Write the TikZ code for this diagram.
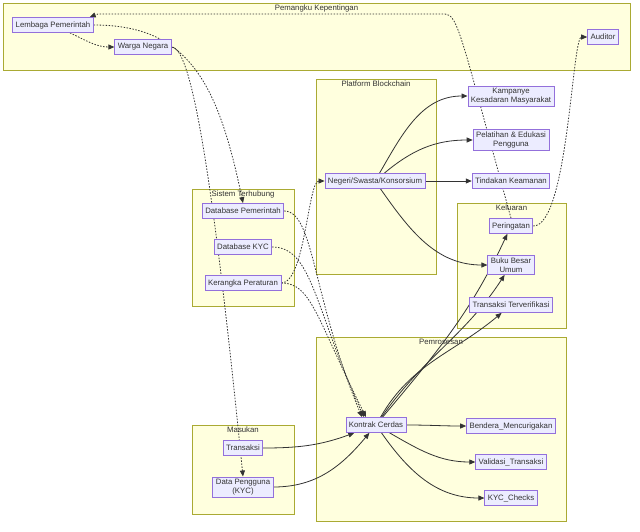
\documentclass[tikz,border=0pt]{standalone}
\usepackage{fontspec}
\setmainfont{Liberation Sans}
\usetikzlibrary{arrows.meta,positioning,calc}
\definecolor{boxfill}{HTML}{ECECFF}
\definecolor{boxline}{HTML}{9370DB}
\definecolor{groupfill}{HTML}{FFFFDE}
\definecolor{groupline}{HTML}{AAAA33}
\definecolor{inkgray}{HTML}{333333}
\pgfdeclarelayer{background}
\pgfdeclarelayer{edges}
\pgfsetlayers{background,edges,main}
\tikzset{
  nodebox/.style={draw=boxline, fill=boxfill, line width=0.8pt, text=inkgray,
    font=\fontsize{7.8}{9.2}\selectfont, align=center,
    inner xsep=3pt, inner ysep=2pt, minimum height=15pt},
  groupbox/.style={draw=groupline, fill=groupfill, line width=0.8pt},
  grouptitle/.style={text=inkgray, font=\fontsize{7.8}{9.2}\selectfont,
    anchor=base, inner sep=0pt},
  flow/.style={-{Triangle[length=6pt,width=5pt]}, line width=0.8pt, draw=inkgray},
  dotflow/.style={flow, dash pattern=on 1.5pt off 1.5pt}
}

\begin{document}
\begin{tikzpicture}[x=1pt, y=1pt]
\useasboundingbox (0,0) rectangle (640,-531);

% groups
\begin{pgfonlayer}{background}
\draw[groupbox] (3,-3) rectangle (630,-70);
\draw[groupbox] (316,-79) rectangle (436,-274);
\draw[groupbox] (192,-189) rectangle (294,-306);
\draw[groupbox] (457,-203) rectangle (566,-328);
\draw[groupbox] (316,-337) rectangle (566,-521);
\draw[groupbox] (192,-425) rectangle (294,-514);
\end{pgfonlayer}
\node[grouptitle] (tPemangku) at (316.5,-10) {Pemangku Kepentingan};
\node[grouptitle] (tPlatform) at (376,-86) {Platform Blockchain};
\node[grouptitle] (tSistem) at (243,-196) {Sistem Terhubung};
\node[grouptitle] (tKeluaran) at (511.5,-210) {Keluaran};
\node[grouptitle] (tPemrosesan) at (441,-344) {Pemrosesan};
\node[grouptitle] (tMasukan) at (243,-432) {Masukan};

% nodes
\node[nodebox] (lembaga) at (53,-25) {Lembaga Pemerintah};
\node[nodebox] (warga) at (143,-47) {Warga Negara};
\node[nodebox] (auditor) at (603,-37) {Auditor};
\node[nodebox] (dbPem) at (243,-211) {Database Pemerintah};
\node[nodebox] (dbKyc) at (243,-247) {Database KYC};
\node[nodebox] (kerangka) at (243,-283) {Kerangka Peraturan};
\node[nodebox] (negeri) at (375,-181) {Negeri/Swasta/Konsorsium};
\node[nodebox] (kampanye) at (511,-96) {Kampanye\\Kesadaran Masyarakat};
\node[nodebox] (pelatihan) at (511,-140) {Pelatihan \& Edukasi\\Pengguna};
\node[nodebox] (tindakan) at (511,-181) {Tindakan Keamanan};
\node[nodebox] (peringatan) at (511,-226) {Peringatan};
\node[nodebox] (buku) at (511,-265) {Buku Besar\\Umum};
\node[nodebox] (terverif) at (511,-305) {Transaksi Terverifikasi};
\node[nodebox] (kontrak) at (376,-425) {Kontrak Cerdas};
\node[nodebox] (bendera) at (511,-426) {Bendera\_Mencurigakan};
\node[nodebox] (validasi) at (511,-462) {Validasi\_Transaksi};
\node[nodebox] (kycChecks) at (511,-498) {KYC\_Checks};
\node[nodebox] (transaksi) at (243,-448) {Transaksi};
\node[nodebox] (dataPeng) at (243,-487) {Data Pengguna\\(KYC)};

\begin{pgfonlayer}{edges}
% solid flows
\draw[flow] (negeri) to[out=60,in=180] (kampanye);
\draw[flow] (negeri) to[out=40,in=180] (pelatihan);
\draw[flow] (negeri) -- (tindakan);
\draw[flow] (negeri) to[out=-55,in=180] (buku);
\draw[flow] (kontrak) to[out=50,in=-115] (peringatan);
\draw[flow] (kontrak) to[out=55,in=-123] (buku);
\draw[flow] (kontrak) to[out=60,in=-140] (terverif);
\draw[flow] (kontrak) to[out=0,in=180] (bendera);
\draw[flow] (kontrak) to[out=-30,in=180] (validasi);
\draw[flow] (kontrak) to[out=-55,in=180] (kycChecks);
\draw[flow] (transaksi) to[out=0,in=-160] (kontrak);
\draw[flow] (dataPeng) to[out=0,in=-130] (kontrak);

% dotted flows
\draw[dotflow] (lembaga) to[out=-25,in=180] (warga);
\draw[dotflow] (lembaga.east) .. controls +(95,0) and +(-25,120) .. (dbPem.north);
\draw[dotflow] (warga.east) .. controls +(20,0) and +(-30,300) .. (dataPeng.north);
\draw[dotflow] (peringatan.north) .. controls (462,-40) and (458,-14) .. (445,-14)
  -- (98,-14) -- ($(lembaga.north east)+(-4,0)$);
\draw[dotflow] (peringatan.east) .. controls (568,-226) and (572,-37) .. (auditor.west);
\draw[dotflow] (kerangka.east) .. controls (305,-283) and (308,-181) .. (negeri.west);
\draw[dotflow] (dbPem.east) .. controls +(30,0) and +(-50,120) .. ($(kontrak.north)+(-14,0)$);
\draw[dotflow] (dbKyc.east) .. controls +(40,0) and +(-50,110) .. ($(kontrak.north)+(-12,0)$);
\draw[dotflow] (kerangka.east) .. controls +(30,0) and +(-50,100) .. ($(kontrak.north)+(-10,0)$);
\end{pgfonlayer}
\end{tikzpicture}
\end{document}
